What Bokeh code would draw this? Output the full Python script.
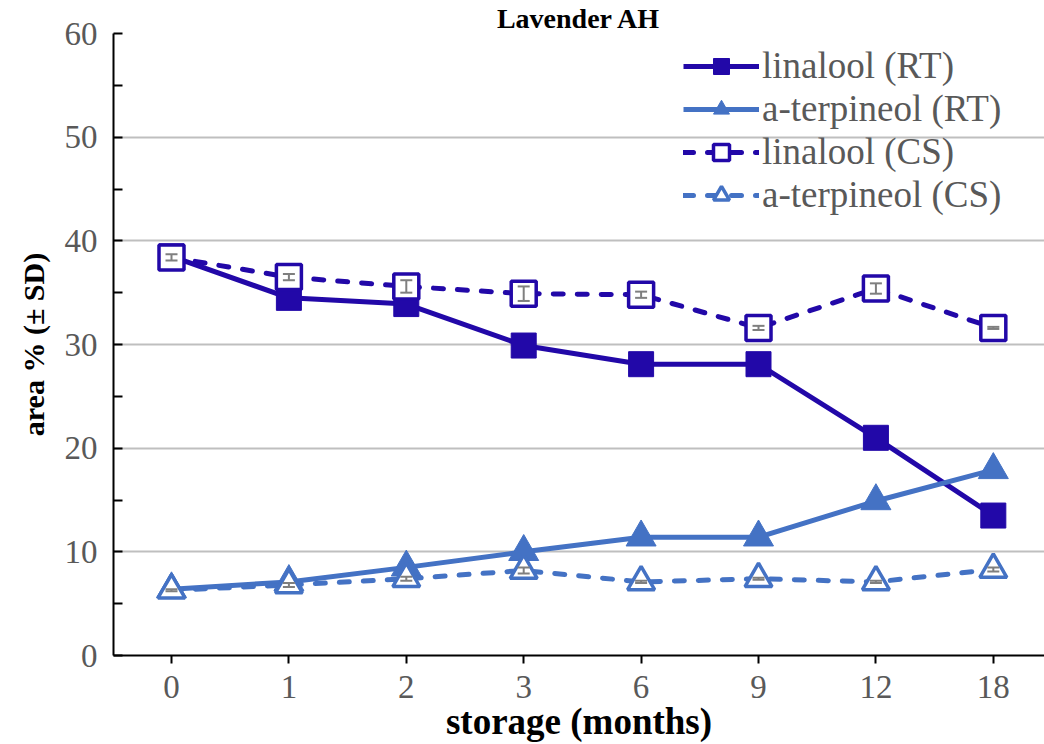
from bokeh.plotting import figure
from bokeh.models import (Range1d, FixedTicker, Legend, LegendItem, Whisker,
                          ColumnDataSource, TeeHead)
from bokeh.embed import file_html
from bokeh.resources import INLINE

months = ["0", "1", "2", "3", "6", "9", "12", "18"]
linalool_rt = [38.5, 34.5, 33.9, 29.9, 28.1, 28.1, 21.0, 13.5]
terpineol_rt = [6.4, 7.1, 8.5, 10.0, 11.4, 11.4, 14.9, 17.9]
linalool_cs = [38.4, 36.5, 35.6, 34.9, 34.8, 31.6, 35.4, 31.6]
linalool_cs_sd = [0.3, 0.3, 0.6, 0.7, 0.3, 0.2, 0.5, 0.1]
terpineol_cs = [6.3, 6.8, 7.4, 8.2, 7.1, 7.4, 7.1, 8.3]
terpineol_cs_sd = [0.1, 0.2, 0.2, 0.3, 0.1, 0.1, 0.1, 0.2]
y_ticks = [0, 10, 20, 30, 40, 50, 60]

DARK = "#2208a8"
LIGHT = "#4472c4"
GRAY = "#595959"
FONT = "Liberation Serif"

x = list(range(len(months)))

p = figure(width=1044, height=744, output_backend="svg", toolbar_location=None,
           x_range=Range1d(-0.494, 7.436), y_range=Range1d(0, 60),
           title="Lavender AH", min_border_left=113, min_border_right=0,
           min_border_top=0, min_border_bottom=89)
p.outline_line_color = None
p.title.text_font = FONT
p.title.text_font_size = "28px"
p.title.text_font_style = "bold"
p.title.align = "center"
p.title.text_color = "black"
p.title.standoff = 0
p.title.offset = 0

# axes
p.xaxis.ticker = FixedTicker(ticks=x)
p.xaxis.major_label_overrides = {i: m for i, m in zip(x, months)}
p.yaxis.ticker = FixedTicker(ticks=y_ticks, minor_ticks=[5, 15, 25, 35, 45, 55])
for ax in (p.xaxis[0], p.yaxis[0]):
    ax.axis_line_color = "black"
    ax.axis_line_width = 2
    ax.major_tick_line_color = "black"
    ax.major_tick_line_width = 2
    ax.minor_tick_line_color = "black"
    ax.minor_tick_line_width = 2
    ax.major_label_text_font = FONT
    ax.major_label_text_font_size = "33px"
    ax.major_label_text_color = GRAY
    ax.axis_label_text_font = FONT
    ax.axis_label_text_font_style = "bold"
    ax.axis_label_text_color = "black"

p.xaxis.major_tick_in = 0
p.xaxis.major_tick_out = 8
p.xaxis.minor_tick_line_color = None
p.xaxis.major_label_standoff = 12
p.xaxis.axis_label = "storage (months)"
p.xaxis.axis_label_text_font_size = "37px"
p.xaxis.axis_label_standoff = 0

p.yaxis.major_tick_in = 9
p.yaxis.major_tick_out = 0
p.yaxis.minor_tick_in = 9
p.yaxis.minor_tick_out = 0
p.yaxis.major_label_standoff = 16
p.yaxis.axis_label = "area % (\u00b1 SD)"
p.yaxis.axis_label_text_font_size = "30px"
p.yaxis.axis_label_standoff = 12

p.xgrid.grid_line_color = None
p.ygrid.ticker = FixedTicker(ticks=y_ticks)
p.ygrid.grid_line_color = "#bfbfbf"
p.ygrid.grid_line_width = 2

# series
l1 = p.line(x, linalool_rt, line_color=DARK, line_width=5)
m1 = p.scatter(x, linalool_rt, marker="square", size=25, fill_color=DARK,
               line_color=DARK, line_width=1)

l2 = p.line(x, terpineol_rt, line_color=LIGHT, line_width=5)
m2 = p.scatter(x, terpineol_rt, marker="triangle", size=30, fill_color=LIGHT,
               line_color=LIGHT, line_width=1)

l3 = p.line(x, linalool_cs, line_color=DARK, line_width=5, line_dash="10 14",
            line_cap="round")
m3 = p.scatter(x, linalool_cs, marker="square", size=25, fill_color="white",
               line_color=DARK, line_width=3.5)

l4 = p.line(x, terpineol_cs, line_color=LIGHT, line_width=5, line_dash="10 14",
            line_cap="round")
m4 = p.scatter(x, terpineol_cs, marker="triangle", size=27, fill_color="white",
               line_color=LIGHT, line_width=3.5)

# error bars
for vals, sd in ((linalool_cs, linalool_cs_sd), (terpineol_cs, terpineol_cs_sd)):
    src = ColumnDataSource(dict(base=x,
                                upper=[v + s for v, s in zip(vals, sd)],
                                lower=[v - s for v, s in zip(vals, sd)]))
    w = Whisker(source=src, base="base", upper="upper", lower="lower",
                dimension="height", line_color="#7f7f7f", line_width=2,
                upper_head=TeeHead(size=12, line_color="#7f7f7f", line_width=2),
                lower_head=TeeHead(size=12, line_color="#7f7f7f", line_width=2),
                level="overlay")
    p.add_layout(w)

legend = Legend(items=[
    LegendItem(label="linalool (RT)", renderers=[l1, m1]),
    LegendItem(label="a-terpineol (RT)", renderers=[l2, m2]),
    LegendItem(label="linalool (CS)", renderers=[l3, m3]),
    LegendItem(label="a-terpineol (CS)", renderers=[l4, m4]),
], location=(564, 433))
legend.background_fill_alpha = 0
legend.border_line_alpha = 0
legend.label_text_font = FONT
legend.label_text_font_size = "37px"
legend.label_text_color = GRAY
legend.glyph_width = 76
legend.glyph_height = 40
legend.label_standoff = 3
legend.spacing = 0
legend.margin = 0
legend.padding = 6
p.add_layout(legend)

open("out.html", "w").write(file_html(p, INLINE))
